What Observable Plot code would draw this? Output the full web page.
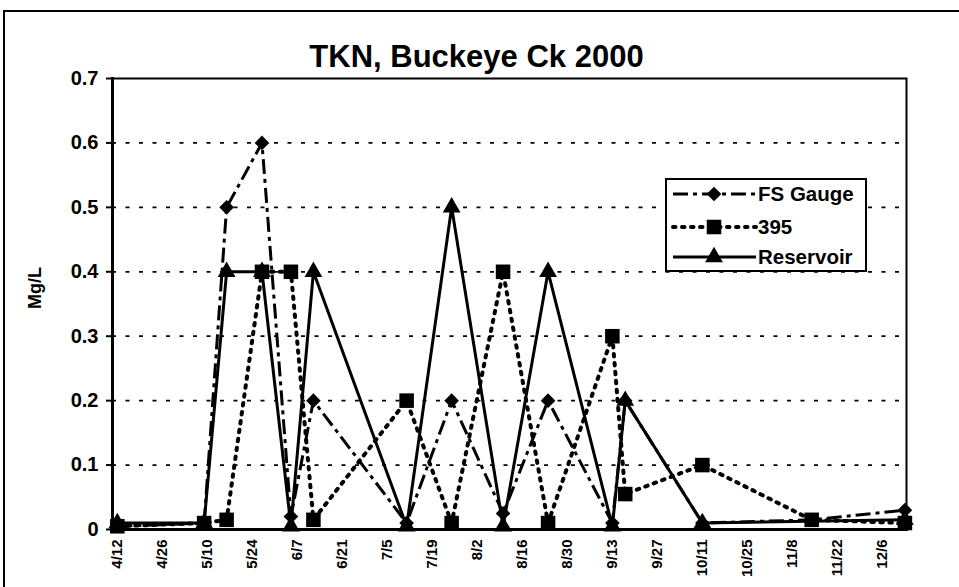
<!DOCTYPE html>
<html><head><meta charset="utf-8">
<script src="https://cdn.jsdelivr.net/npm/d3@7"></script>
<script src="https://cdn.jsdelivr.net/npm/@observablehq/plot@0.6"></script>
<style>
html,body{margin:0;padding:0;background:#fff;}
#wrap{position:relative;width:959px;height:587px;overflow:hidden;font-family:"Liberation Sans",Arial,sans-serif;background:#fff;}
#wrap svg.plot{position:absolute;left:0;top:0;}
#border{position:absolute;left:3px;top:10px;width:990px;height:620px;border-left:2px solid #000;border-top:2px solid #000;pointer-events:none;}
#legend{position:absolute;left:665px;top:178px;width:202px;height:94px;border:2px solid #000;background:#fff;box-sizing:border-box;}
</style></head><body><div id="wrap"><div id="border"></div></div>
<script>
// ---- data ----
const sampleDates = ["2000-04-12","2000-05-09","2000-05-16","2000-05-27","2000-06-05","2000-06-12","2000-07-11","2000-07-25","2000-08-10","2000-08-24","2000-09-13","2000-09-17","2000-10-11","2000-11-14","2000-12-13"];
const fsGauge   = [0.005, 0.01, 0.5,  0.6, 0.02,  0.2,   0.01, 0.2,  0.025, 0.2,  0.01,  0.2,   0.01, 0.015, 0.03];
const site395   = [0.005, 0.01, 0.015,0.4, 0.4,   0.015, 0.2,  0.01, 0.4,   0.01, 0.3,   0.055, 0.1,  0.015, 0.01];
const reservoir = [0.01,  0.01, 0.4,  0.4, 0.005, 0.4,   0.005,0.5,  0.005, 0.4,  0.005, 0.2,   0.01, null,  0.015];
const seriesNames = ["FS Gauge", "395", "Reservoir"];
const yTicks = [0, 0.1, 0.2, 0.3, 0.4, 0.5, 0.6, 0.7];
const gridValues = [0.1, 0.2, 0.3, 0.4, 0.5, 0.6];
const xTickLabels = ["4/12","4/26","5/10","5/24","6/7","6/21","7/5","7/19","8/2","8/16","8/30","9/13","9/27","10/11","10/25","11/8","11/22","12/6"];
const chartTitle = "TKN, Buckeye Ck 2000";
const yLabel = "Mg/L";

// ---- build ----
const parse = s => new Date(s + "T00:00:00Z");
const fromLabel = l => { const [m, d] = l.split("/").map(Number); return new Date(Date.UTC(2000, m - 1, d)); };
const xTicks = xTickLabels.map(fromLabel);
const labelByTime = new Map(xTicks.map((d, i) => [+d, xTickLabels[i]]));
const rowsFor = vals => sampleDates.map((s, i) => ({date: parse(s), v: vals[i]})).filter(r => r.v != null);
const fsRows = rowsFor(fsGauge), s395Rows = rowsFor(site395), resRows = rowsFor(reservoir);

const styles = [
  {name: seriesNames[0], dash: "15,5,4,5", width: 3, symbol: "diamond2", r: 6.6, cap: "butt"},
  {name: seriesNames[1], dash: "2.5,6.5", width: 4, symbol: "square", r: 8.2, cap: "round"},
  {name: seriesNames[2], dash: null, width: 3, symbol: "triangle", r: 6.6, cap: "butt"}
];
const rowsList = [fsRows, s395Rows, resRows];
const seriesMarks = [];
rowsList.forEach((rows, k) => {
  const st = styles[k];
  seriesMarks.push(Plot.line(rows, {x: "date", y: "v", stroke: "#000", strokeWidth: st.width, strokeDasharray: st.dash, strokeLinecap: st.cap}));
  seriesMarks.push(Plot.dot(rows, {x: "date", y: "v", symbol: () => st.symbol, r: st.r, fill: "#000", stroke: "none"}));
});

const FONT = '"Liberation Sans", Arial, sans-serif';
const chart = Plot.plot({
  width: 959, height: 587,
  marginLeft: 112, marginRight: 53, marginTop: 78, marginBottom: 58,
  style: {fontFamily: FONT, fontWeight: "bold", background: "transparent", color: "#000"},
  x: {type: "utc", domain: [new Date(Date.UTC(2000, 3, 10, 12)), new Date(Date.UTC(2000, 11, 13, 12))]},
  y: {domain: [0, 0.7]},
  symbol: {type: "identity"},
  marks: [
    Plot.ruleY(gridValues, {stroke: "#000", strokeWidth: 1.8, strokeDasharray: "4,9.5"}),
    Plot.frame({stroke: "#000", strokeWidth: 2}),
    Plot.axisY({ticks: yTicks, tickFormat: d => d === 0 ? "0" : d.toFixed(1), tickSize: 6, tickPadding: 8, fontSize: 20, label: null, strokeWidth: 2}),
    Plot.axisX({ticks: xTicks, tickFormat: d => labelByTime.get(+d), tickRotate: -90, tickSize: 0, tickPadding: 10, fontSize: 15, label: null}),
    ...seriesMarks,
    Plot.frame({anchor: "left", stroke: "#000", strokeWidth: 3}),
    Plot.frame({anchor: "bottom", stroke: "#000", strokeWidth: 3}),
    Plot.text([chartTitle], {frameAnchor: "top", lineAnchor: "middle", dy: -21, dx: -33, fontSize: 31, fontWeight: "bold", fill: "#000"}),
    Plot.text([yLabel], {frameAnchor: "left", textAnchor: "middle", rotate: -90, dx: -77, dy: -16, fontSize: 18, fontWeight: "bold", fill: "#000"})
  ]
});
const wrap = document.getElementById("wrap");
wrap.insertBefore(chart, wrap.firstChild);

// ---- legend ----
const legend = document.createElement("div");
legend.id = "legend";
wrap.appendChild(legend);
const lsvg = d3.select(legend).append("svg").attr("width", 198).attr("height", 90).style("position", "absolute").style("left", 0).style("top", 0);
const rowY = [14, 47, 77];
styles.forEach((st, k) => {
  const g = lsvg.append("g").attr("transform", `translate(0,${rowY[k]})`);
  g.append("line").attr("x1", 6).attr("x2", 89).attr("y1", 0).attr("y2", 0)
    .attr("stroke", "#000").attr("stroke-width", st.width)
    .attr("stroke-dasharray", st.dash).attr("stroke-linecap", st.cap);
  const sym = {diamond2: d3.symbolDiamond2, square: d3.symbolSquare, triangle: d3.symbolTriangle}[st.symbol];
  g.append("path").attr("d", d3.symbol(sym, Math.PI * st.r * st.r)()).attr("transform", "translate(47,0)").attr("fill", "#000");
  g.append("text").attr("x", 91).attr("y", 0).attr("dy", "0.35em").attr("font-family", FONT)
    .attr("font-weight", "bold").attr("font-size", 20.5).text(st.name);
});
</script></body></html>
